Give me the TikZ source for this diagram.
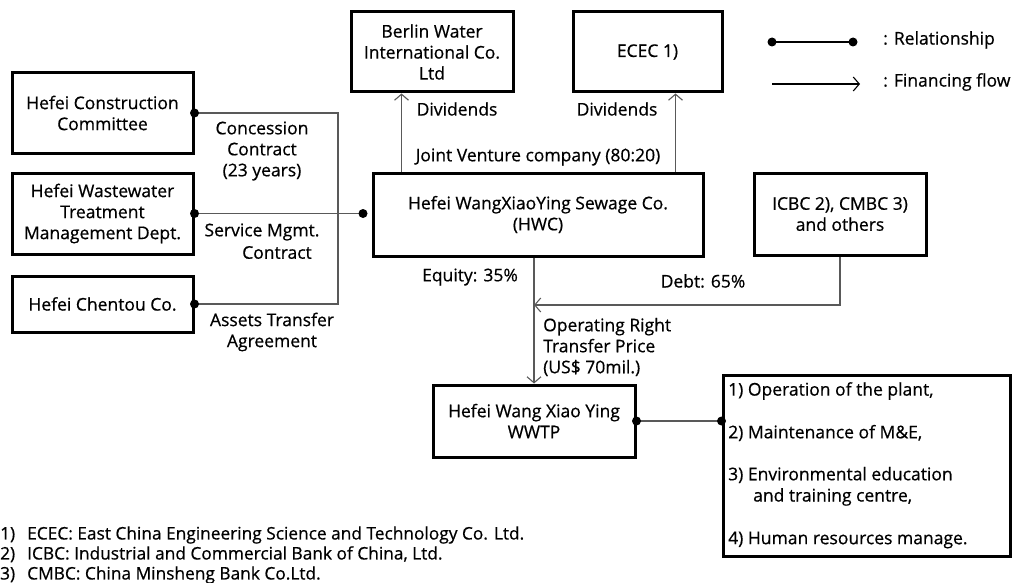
\documentclass[tikz,border=0pt]{standalone}
\usepackage{fontspec}
\setmainfont{Open Sans}[FakeBold=0.6]
\usetikzlibrary{arrows.meta,calc}
\begin{document}
\begin{tikzpicture}[x=1pt,y=-1pt,
  box/.style={draw=black,line width=3pt,inner sep=0pt,align=center,font=\fontsize{17.5}{21}\selectfont},
  lbl/.style={inner sep=0pt,align=center,font=\fontsize{17.5}{21}\selectfont},
  rel/.style={draw=black!65,line width=1.1pt},
  flow/.style={draw=black!65,line width=1.1pt,-{Straight Barb[length=6pt,width=14pt,line width=1.1pt]}},
  dotc/.style={fill=black}
]
\useasboundingbox (0,0) rectangle (1017,583);
% boxes
\node[box,minimum width=181pt,minimum height=80pt] (cc) at (102.5,113) {Hefei Construction\\Committee};
\node[box,minimum width=181pt,minimum height=81pt] (ww) at (102.5,213.5) {Hefei Wastewater\\Treatment\\Management Dept.};
\node[box,minimum width=181pt,minimum height=56pt] (ct) at (102.5,304) {Hefei Chentou Co.};
\node[box,minimum width=162pt,minimum height=80pt] (bw) at (432,52) {Berlin Water\\International Co.\\Ltd};
\node[box,minimum width=149pt,minimum height=80pt] (ec) at (647.5,52) {ECEC 1)};
\node[box,minimum width=330pt,minimum height=83pt] (hwc) at (538,214.5) {Hefei WangXiaoYing Sewage Co.\\(HWC)};
\node[box,minimum width=172pt,minimum height=82pt] (ic) at (840,214) {ICBC 2), CMBC 3)\\and others};
\node[box,minimum width=202pt,minimum height=72pt] (wp) at (534,421) {Hefei Wang Xiao Ying\\WWTP};
\node[box,minimum width=287pt,minimum height=181pt] (ls) at (866.5,465.5) {};
% list items
\node[lbl,anchor=west] (i1) at (728,391) {1) Operation of the plant,};
\node[lbl,anchor=west] (i2) at (728,433) {2) Maintenance of M\&E,};
\node[lbl,anchor=west] (i3) at (728,475) {3) Environmental education};
\node[lbl,anchor=west] (i3b) at (753,497) {and training centre,};
\node[lbl,anchor=west] (i4) at (728,540) {4) Human resources manage.};
% relationship lines
\coordinate (bus) at (338,304);
\coordinate (hd) at (363,213.5);
\draw[rel] (cc.east) -| (bus) -- (ct.east);
\draw[rel] (ww.east) -- (hd);
\fill[dotc] (cc.east) circle (4.5);
\fill[dotc] (ct.east) circle (4.5);
\fill[dotc] (ww.east) circle (4.5);
\fill[dotc] (hd) circle (4.5);
\draw[rel] (wp.east) -- (wp.east -| ls.west);
\fill[dotc] (wp.east) circle (4.5);
\fill[dotc] (wp.east -| ls.west) circle (4.5);
% labels left
\node[lbl] (lc) at (262,151) {Concession\\Contract\\(23 years)};
\node[lbl] (ls1) at (262,232) {Service Mgmt.};
\node[lbl] (ls2) at (277,252.5) {Contract};
\node[lbl] (la) at (272,332) {Assets Transfer\\Agreement};
% dividends
\draw[flow] ([xshift=30pt]hwc.north west) -- ([xshift=30pt]hwc.north west |- bw.south);
\draw[flow] ([xshift=-29pt]hwc.north east) -- ([xshift=-29pt]hwc.north east |- ec.south);
\node[lbl] (dv1) at (457,109) {Dividends};
\node[lbl] (dv2) at (617,109) {Dividends};
\node[lbl] (jv) at (538,157) {Joint Venture company (80:20)};
% equity / debt
\coordinate (mj) at (534,305);
\draw[flow] (wp.north |- hwc.south) -- (wp.north);
\draw[flow] (ic.south) |- (mj);
\node[lbl] (eq) at (470,277) {Equity: 35\%};
\node[lbl] (db) at (703,281) {Debt: 65\%};
\node[lbl,anchor=west,align=left] (op) at (543,347) {Operating Right\\Transfer Price\\(US\$ 70mil.)};
% legend
\coordinate (la1) at (772,42);
\coordinate (la2) at (853,42);
\coordinate (lb1) at (772,84);
\coordinate (lb2) at (860,84);
\draw[rel,draw=black] (la1) -- (la2);
\fill[dotc] (la1) circle (4.5);
\fill[dotc] (la2) circle (4.5);
\draw[flow,draw=black] (lb1) -- (lb2);
\node[lbl,anchor=west] (lg1) at (883,40) {: Relationship};
\node[lbl,anchor=west] (lg2) at (883,82) {: Financing flow};
% footnotes
\node[inner sep=0pt,anchor=west,font=\fontsize{17.3}{20}\selectfont,align=left] (fn) at (0,555)
 {\makebox[27pt][l]{1)}ECEC: East China Engineering Science and Technology Co. Ltd.\\
  \makebox[27pt][l]{2)}ICBC: Industrial and Commercial Bank of China, Ltd.\\
  \makebox[27pt][l]{3)}CMBC: China Minsheng Bank Co.Ltd.};
\end{tikzpicture}
\end{document}
